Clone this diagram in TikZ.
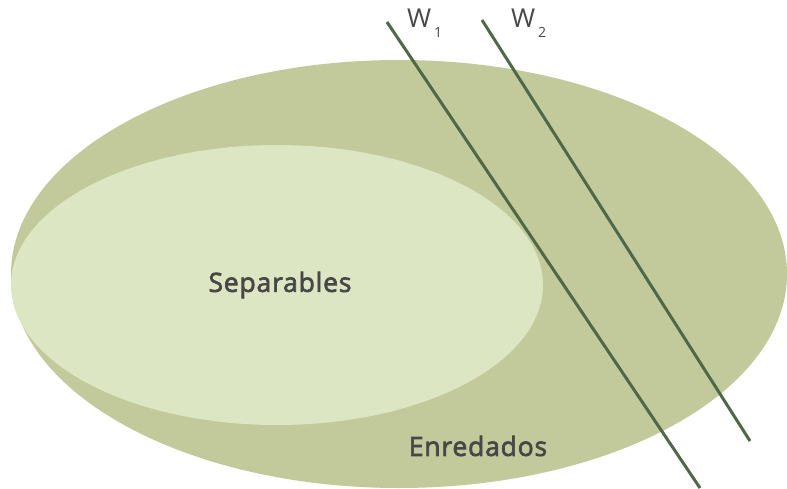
\documentclass[tikz,border=0pt]{standalone}
\usepackage{fontspec}
\setmainfont{Open Sans}
\newfontfamily\semib[FakeBold=2.5,LetterSpace=3]{Open Sans}
\definecolor{bigfill}{HTML}{C2C99B}
\definecolor{smallfill}{HTML}{DCE6C3}
\definecolor{linecol}{HTML}{4F6847}
\definecolor{textcol}{HTML}{474747}
\begin{document}
\begin{tikzpicture}[x=1pt,y=-1pt,
  wline/.style={draw=linecol,line width=3pt},
  lbl/.style={text=textcol,font=\semib\fontsize{26.5}{30}\selectfont,inner sep=0pt},
  wlbl/.style={text=textcol,font=\fontsize{26}{30}\selectfont,inner sep=0pt,anchor=base west},
  wsub/.style={text=textcol,font=\fontsize{14}{16}\selectfont,inner sep=0pt,anchor=base west}]
\useasboundingbox (0,0) rectangle (787,489);
\fill[bigfill] (399,274) ellipse [x radius=388, y radius=214];
\fill[smallfill] (277,285) ellipse [x radius=266, y radius=140];
\coordinate (w1a) at (387,22);
\coordinate (w1b) at (700,488);
\coordinate (w2a) at (482,20);
\coordinate (w2b) at (750,441);
\draw[wline] (w1a) -- (w1b);
\draw[wline] (w2a) -- (w2b);
\node[wlbl] (l1) at (407,28) {W};
\node[wsub] (s1) at (434,38) {1};
\node[wlbl] (l2) at (511,28) {W};
\node[wsub] (s2) at (538,38) {2};
\node[lbl] (sep) at (280,285) {Separables};
\node[lbl] (enr) at (478,446) {Enredados};
\end{tikzpicture}
\end{document}
